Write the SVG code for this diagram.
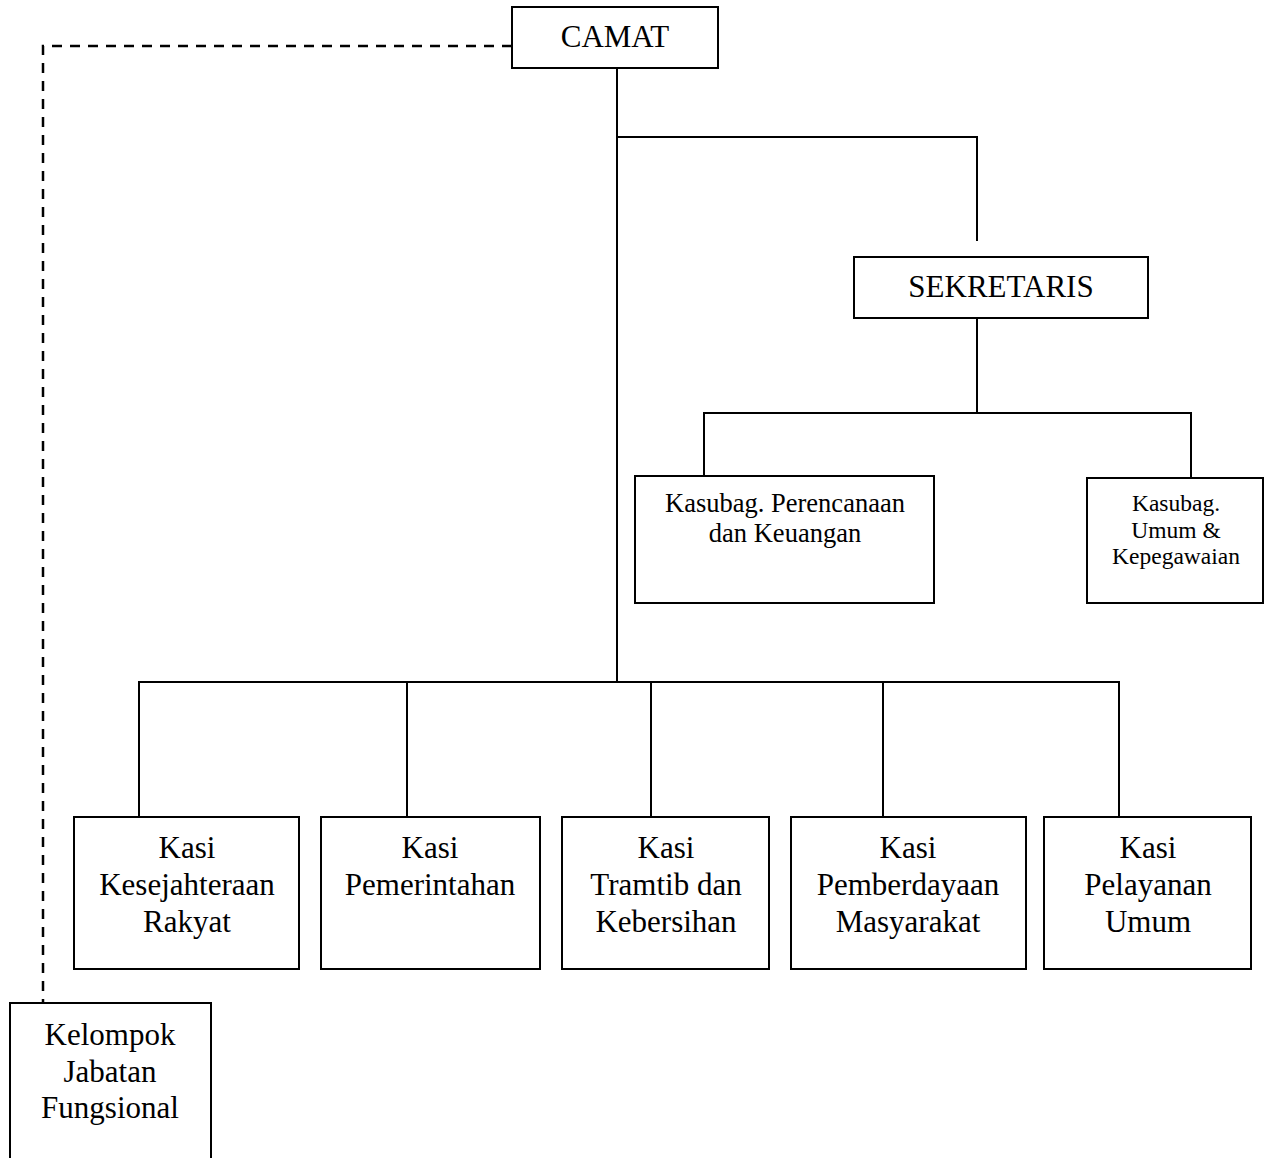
<svg xmlns="http://www.w3.org/2000/svg" width="1266" height="1158" viewBox="0 0 1266 1158">
<style>
.box{fill:#fff;stroke:#000;stroke-width:2}
.ln{fill:none;stroke:#000;stroke-width:2}
.dash{fill:none;stroke:#000;stroke-width:2.5;stroke-dasharray:10 8}
text{font-family:"Liberation Serif","Times New Roman",serif;fill:#000;text-anchor:middle}
.big{font-size:31px}
.mid{font-size:26.5px}
.sm{font-size:23.5px}
</style>
<rect width="1266" height="1158" fill="#fff"/>
<g id="connectors">
<path class="dash" d="M512 46 H43 V1003"/>
<path class="ln" d="M617 68 V682"/>
<path class="ln" d="M617 137 H977 V241"/>
<path class="ln" d="M977 318 V413"/>
<path class="ln" d="M704 476 V413 H1191 V478"/>
<path class="ln" d="M139 817 V682 H1119 V817"/>
<path class="ln" d="M407 682 V817"/>
<path class="ln" d="M651 682 V817"/>
<path class="ln" d="M883 682 V817"/>
</g>
<g id="camat"><rect class="box" x="512" y="7" width="206" height="61"/><text class="big" x="615" y="47">CAMAT</text></g>
<g id="sekretaris"><rect class="box" x="854" y="257" width="294" height="61"/><text class="big" x="1001" y="297">SEKRETARIS</text></g>
<g id="kasubag-perencanaan"><rect class="box" x="635" y="476" width="299" height="127"/><text class="mid" x="785" y="512">Kasubag. Perencanaan</text><text class="mid" x="785" y="542">dan Keuangan</text></g>
<g id="kasubag-umum"><rect class="box" x="1087" y="478" width="176" height="125"/><text class="sm" x="1176" y="511">Kasubag.</text><text class="sm" x="1176" y="538">Umum &amp;</text><text class="sm" x="1176" y="564">Kepegawaian</text></g>
<g id="kasi-kesra"><rect class="box" x="74" y="817" width="225" height="152"/><text class="big" x="187" y="858">Kasi</text><text class="big" x="187" y="895">Kesejahteraan</text><text class="big" x="187" y="932">Rakyat</text></g>
<g id="kasi-pemerintahan"><rect class="box" x="321" y="817" width="219" height="152"/><text class="big" x="430" y="858">Kasi</text><text class="big" x="430" y="895">Pemerintahan</text></g>
<g id="kasi-tramtib"><rect class="box" x="562" y="817" width="207" height="152"/><text class="big" x="666" y="858">Kasi</text><text class="big" x="666" y="895">Tramtib dan</text><text class="big" x="666" y="932">Kebersihan</text></g>
<g id="kasi-pemberdayaan"><rect class="box" x="791" y="817" width="235" height="152"/><text class="big" x="908" y="858">Kasi</text><text class="big" x="908" y="895">Pemberdayaan</text><text class="big" x="908" y="932">Masyarakat</text></g>
<g id="kasi-pelayanan"><rect class="box" x="1044" y="817" width="207" height="152"/><text class="big" x="1148" y="858">Kasi</text><text class="big" x="1148" y="895">Pelayanan</text><text class="big" x="1148" y="932">Umum</text></g>
<g id="kelompok"><rect class="box" x="10" y="1003" width="201" height="170"/><text class="big" x="110" y="1045">Kelompok</text><text class="big" x="110" y="1082">Jabatan</text><text class="big" x="110" y="1118">Fungsional</text></g>
</svg>
